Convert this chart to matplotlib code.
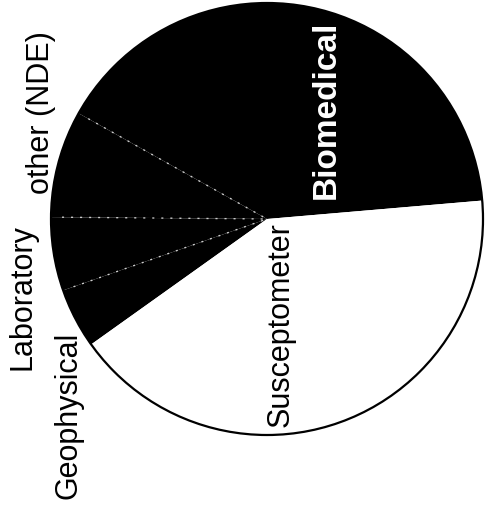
import numpy as np
import matplotlib
matplotlib.use("Agg")
import matplotlib.pyplot as plt
from matplotlib.patches import Circle

plt.rcParams["font.family"] = ["Liberation Sans", "DejaVu Sans"]

# Application areas and their share of the total (%)
sectors = ["Biomedical", "other (NDE)", "Laboratory", "Geophysical", "Susceptometer"]
shares = [40.5, 8.0, 5.5, 4.5, 41.5]
fills = ["black", "black", "black", "black", "white"]

# Label placement (data coordinates, pie of radius 1 centred at origin)
label_pos = {
    "Biomedical": (0.273, 0.505),
    "Susceptometer": (0.065, -0.491),
    "other (NDE)": (-1.046, 0.495),
    "Laboratory": (-1.134, -0.361),
    "Geophysical": (-0.921, -0.907),
}

fig = plt.figure(figsize=(4.87, 5.08), dpi=100)
ax = fig.add_axes([0, 0, 1, 1])

wedges, _ = ax.pie(shares, colors=fills, startangle=4.9, counterclock=True,
                   wedgeprops=dict(linewidth=0))

# faint dividers between the dark sectors
for w in wedges[:3]:
    th = np.deg2rad(w.theta2)
    ax.plot([0.02 * np.cos(th), 0.95 * np.cos(th)],
            [0.02 * np.sin(th), 0.95 * np.sin(th)],
            color="white", lw=1.0, ls=(0, (1.5, 5)), alpha=0.75,
            solid_capstyle="butt")

# outer rim
ax.add_patch(Circle((0, 0), 1.0, fill=False, ec="black", lw=1.6))

for name in sectors:
    x, y = label_pos[name]
    if name == "Biomedical":
        ax.text(x, y, name, rotation=90, ha="center", va="center",
                fontsize=24, fontweight="bold", color="white")
    else:
        ax.text(x, y, name, rotation=90, ha="center", va="center",
                fontsize=22, color="black")

ax.set_aspect("auto")
ax.set_xlim(-267 / 216, 220 / 216)
ax.set_ylim(-289 / 216, 219 / 216)
ax.axis("off")

fig.savefig("out.png", dpi=100, facecolor="white")
